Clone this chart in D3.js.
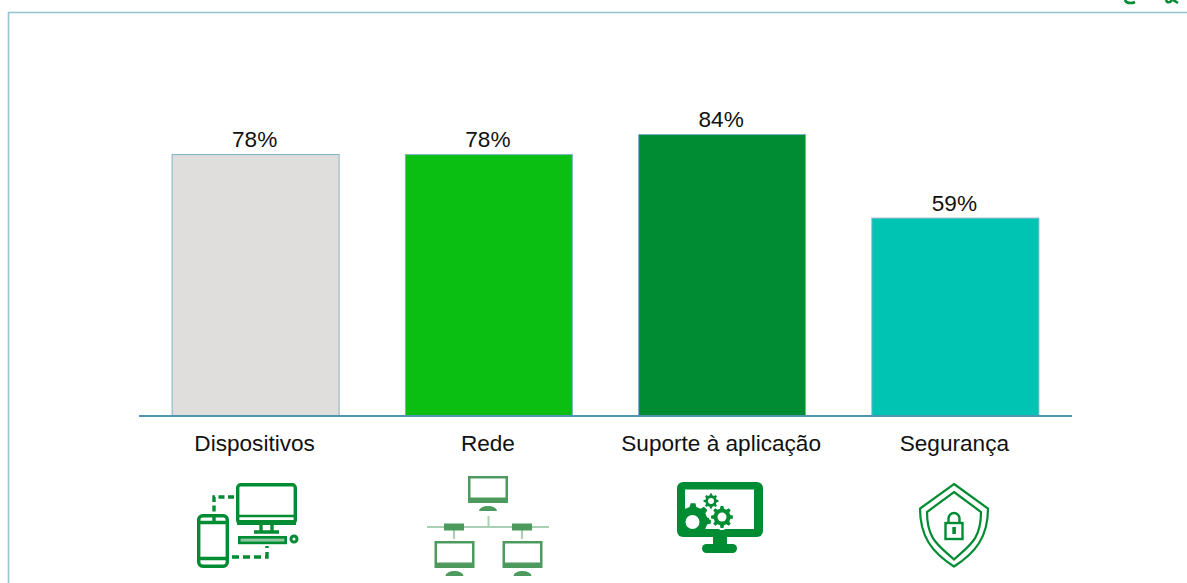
<!DOCTYPE html>
<html lang="pt">
<head>
<meta charset="utf-8">
<title>Dispositivos, Rede, Suporte à aplicação, Segurança</title>
<script src="https://cdn.jsdelivr.net/npm/d3@7"></script>
<style>
  html, body { margin: 0; padding: 0; background: #fff; overflow: hidden; }
  svg { display: block; font-family: "Liberation Sans", Arial, sans-serif; }
</style>
</head>
<body>
<svg id="chart" width="1187" height="583"></svg>
<script>
const categories = ["Dispositivos", "Rede", "Suporte à aplicação", "Segurança"];
const values = [78, 78, 84, 59];
const barColors = ["#dfdedc", "#0abf12", "#008c32", "#00c4b3"];

const iconGreen = "#008c32";
const netGreen = "#4c9a5e";
const netLine = "#aad0b4";

const svg = d3.select("#chart");

// Panel frame: open at the right and bottom edges of the page
svg.append("path")
  .attr("d", "M8.5,583V12.5H1187")
  .attr("fill", "none")
  .attr("stroke", "#94c2d1")
  .attr("stroke-width", 1.6);

const x = d3.scaleBand().domain(categories).range([139, 1072])
  .paddingInner(0.284).paddingOuter(0.142);
const y = d3.scaleLinear().domain([0, 100]).range([415.5, 81]);

svg.selectAll("rect.bar").data(categories).join("rect")
  .attr("class", "bar")
  .attr("x", d => x(d))
  .attr("y", (d, i) => y(values[i]))
  .attr("width", x.bandwidth())
  .attr("height", (d, i) => y(0) - y(values[i]))
  .attr("fill", (d, i) => barColors[i])
  .attr("stroke", "#7fb2c8")
  .attr("stroke-width", 1);

svg.selectAll("text.value").data(categories).join("text")
  .attr("class", "value")
  .attr("x", d => x(d) + x.bandwidth() / 2 - 1)
  .attr("y", (d, i) => y(values[i]) - 7.5)
  .attr("text-anchor", "middle")
  .attr("font-size", 22.6)
  .attr("fill", "#111")
  .text((d, i) => values[i] + "%");

const axis = svg.append("g")
  .attr("transform", `translate(0,${y(0)})`)
  .call(d3.axisBottom(x).tickSize(0).tickPadding(19));
axis.select(".domain").attr("stroke", "#4f96b2").attr("stroke-width", 2)
  .attr("d", "M139,0.5H1072");
axis.selectAll("text")
  .attr("dx", -1)
  .attr("font-family", "Liberation Sans, Arial, sans-serif")
  .attr("font-size", 22.6)
  .attr("fill", "#111");

// Device pair: desktop and phone joined by dashed links
function deviceIcon(g) {
  const line = { fill: "none", stroke: iconGreen, "stroke-width": 3.4 };
  const stroke = (sel, extra) => {
    Object.entries({ ...line, ...extra }).forEach(([k, v]) => sel.attr(k, v));
    return sel;
  };
  stroke(g.append("rect").attr("x", 237.7).attr("y", 484.7).attr("width", 57.6).attr("height", 38.6).attr("rx", 3));
  stroke(g.append("path").attr("d", "M237,516H296"), { "stroke-width": 2.4 });
  g.append("rect").attr("x", 237).attr("y", 520).attr("width", 59).attr("height", 5).attr("fill", iconGreen);
  stroke(g.append("path").attr("d", "M261,525V532M272,525V532M254,532H279"));
  stroke(g.append("rect").attr("x", 239.3).attr("y", 537.3).attr("width", 46.4).attr("height", 5.6), { fill: "#8ec7a0", "stroke-width": 2.6 });
  stroke(g.append("circle").attr("cx", 294).attr("cy", 539).attr("r", 3), { "stroke-width": 3 });
  stroke(g.append("rect").attr("x", 198.7).attr("y", 515.7).attr("width", 28.6).attr("height", 50.6).attr("rx", 4));
  stroke(g.append("path").attr("d", "M198,522.5H228M198,558.5H228M214,514V522"));
  stroke(g.append("path").attr("d", "M234,497H214V512"), { "stroke-dasharray": "6 3.5" });
  stroke(g.append("path").attr("d", "M232,557H267V546"), { "stroke-dasharray": "7 4" });
}

// Network: one monitor above a bus line, two monitors below
function networkIcon(g) {
  const monitor = (mx, my, h) => {
    g.append("rect").attr("x", mx).attr("y", my).attr("width", 40).attr("height", h).attr("fill", netGreen);
    g.append("rect").attr("x", mx + 2.5).attr("y", my + 2.5).attr("width", 35).attr("height", h - 8).attr("fill", "#fff");
    const cx = mx + 20, sy = my + h + 8;
    g.append("path")
      .attr("d", `M${cx - 9},${sy}A9,5 0 0 1 ${cx + 9},${sy}Z`)
      .attr("fill", netGreen);
  };
  g.append("path")
    .attr("d", "M427,527H549M488.5,516V527M454,530V539M522,530V539")
    .attr("fill", "none").attr("stroke", netLine).attr("stroke-width", 2);
  g.append("rect").attr("x", 444).attr("y", 523.5).attr("width", 20).attr("height", 7).attr("fill", netGreen);
  g.append("rect").attr("x", 512).attr("y", 523.5).attr("width", 20).attr("height", 7).attr("fill", netGreen);
  monitor(468, 476, 27);
  monitor(434.5, 541, 27);
  monitor(502.5, 541, 27);
}

// Closed outline of a toothed wheel
function gearPath(cx, cy, outer, inner, teeth) {
  const pts = [];
  const step = Math.PI * 2 / teeth;
  for (let i = 0; i < teeth; i++) {
    const a = i * step;
    [[-0.3, inner], [-0.17, outer], [0.17, outer], [0.3, inner]].forEach(([o, r]) => {
      pts.push([cx + r * Math.cos(a + o * step), cy + r * Math.sin(a + o * step)]);
    });
  }
  return d3.line()(pts) + "Z";
}

// Screen with gears
function supportIcon(g) {
  g.append("rect").attr("x", 677).attr("y", 482).attr("width", 86).attr("height", 55).attr("rx", 6).attr("fill", iconGreen);
  g.append("rect").attr("x", 685).attr("y", 489.5).attr("width", 69).attr("height", 39.5).attr("fill", "#fff");
  g.append("rect").attr("x", 713).attr("y", 536).attr("width", 14).attr("height", 10).attr("fill", iconGreen);
  g.append("rect").attr("x", 702).attr("y", 544).attr("width", 35).attr("height", 9).attr("rx", 4.5).attr("fill", iconGreen);

  const clip = svg.append("clipPath").attr("id", "screen-clip");
  clip.append("rect").attr("x", 677).attr("y", 482).attr("width", 86).attr("height", 47);
  g.append("path").attr("d", gearPath(693, 521, 18, 14.5, 8)).attr("fill", iconGreen).attr("clip-path", "url(#screen-clip)");
  g.append("circle").attr("cx", 692.5).attr("cy", 522).attr("r", 7).attr("fill", "#fff");

  g.append("path").attr("d", gearPath(722, 517, 12, 9.5, 8)).attr("fill", "#fff").attr("stroke", "#fff").attr("stroke-width", 2);
  g.append("path").attr("d", gearPath(722, 517, 11, 8.5, 8)).attr("fill", iconGreen);
  g.append("circle").attr("cx", 722).attr("cy", 517).attr("r", 4.5).attr("fill", "#fff");
  g.append("path").attr("d", gearPath(711, 501, 7.5, 5.8, 8)).attr("fill", iconGreen);
  g.append("circle").attr("cx", 711).attr("cy", 501).attr("r", 3).attr("fill", "#fff");
}

// Double-outlined shield with a padlock
function securityIcon(g) {
  const shield = (top, shoulderY, halfW, bottom) =>
    `M954,${top}L${954 + halfW},${shoulderY}C${954 + halfW},${shoulderY + 28} ${954 + halfW - 12},${bottom - 14} 954,${bottom}` +
    `C${954 - halfW + 12},${bottom - 14} ${954 - halfW},${shoulderY + 28} ${954 - halfW},${shoulderY}Z`;
  g.append("path").attr("d", shield(484, 508.5, 34, 566.5))
    .attr("fill", "none").attr("stroke", iconGreen).attr("stroke-width", 2.2);
  g.append("path").attr("d", shield(492, 512, 27, 559.5))
    .attr("fill", "none").attr("stroke", iconGreen).attr("stroke-width", 2.2);
  g.append("rect").attr("x", 945.5).attr("y", 523).attr("width", 17).attr("height", 16)
    .attr("fill", "none").attr("stroke", iconGreen).attr("stroke-width", 2.4);
  g.append("path").attr("d", "M948.5,523V518.5A5.5,5.5 0 0 1 959.5,518.5V523")
    .attr("fill", "none").attr("stroke", iconGreen).attr("stroke-width", 2.4);
  g.append("rect").attr("x", 952.3).attr("y", 527).attr("width", 3.6).attr("height", 7).attr("fill", iconGreen);
}

const icons = svg.append("g");
deviceIcon(icons.append("g"));
networkIcon(icons.append("g"));
supportIcon(icons.append("g"));
securityIcon(icons.append("g"));

// Corner emblem, cut off by the top edge of the page
svg.append("path")
  .attr("d", "M1125,0C1126,3 1131,4 1135,2M1166,0C1167,3 1170,3 1172,0M1173,0L1178,3")
  .attr("fill", "none").attr("stroke", iconGreen).attr("stroke-width", 2.6);
</script>
</body>
</html>
